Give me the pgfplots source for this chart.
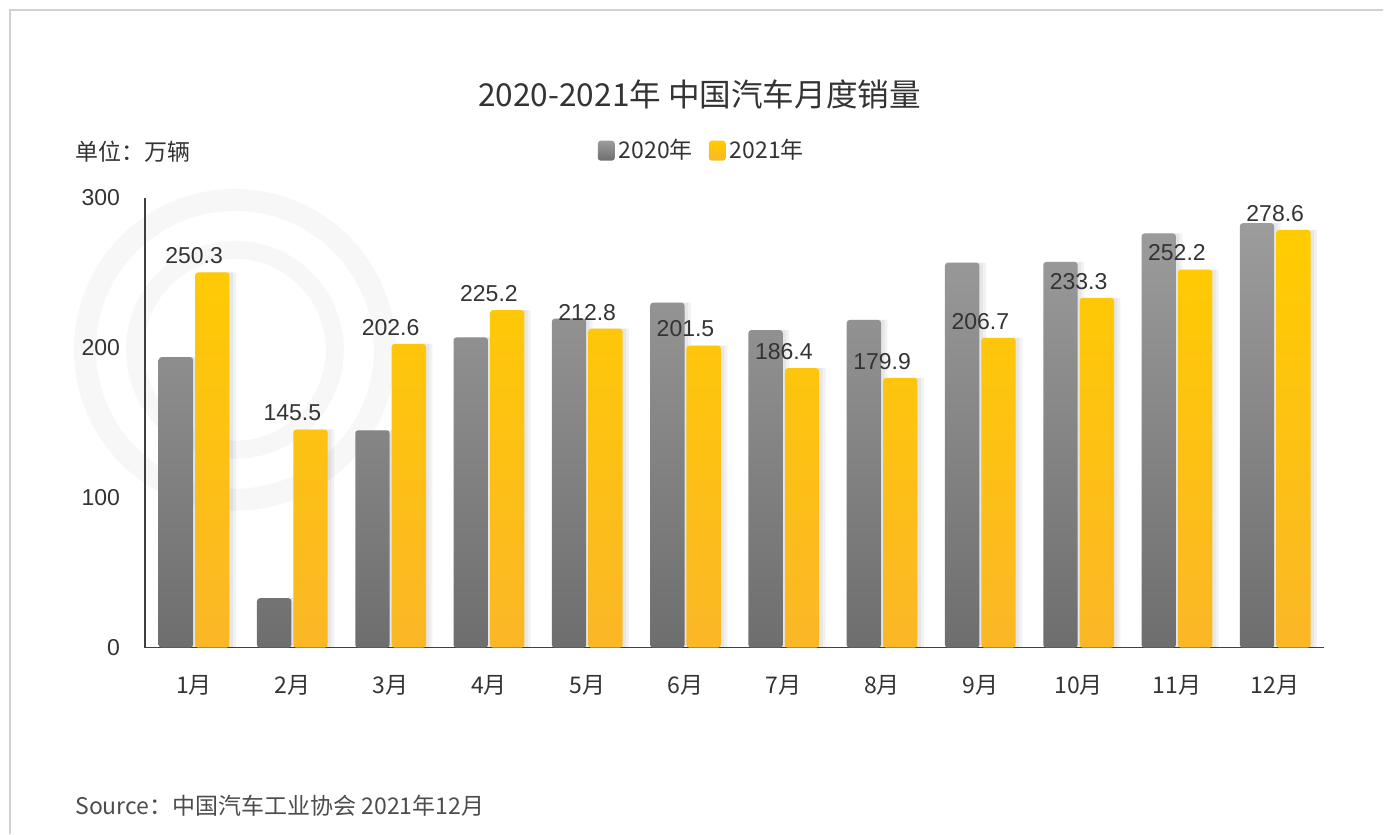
\documentclass[border=0pt]{standalone}
\usepackage{fontspec}
\setmainfont{Liberation Sans}
\newfontfamily\cjk{Noto Sans CJK SC}
\usepackage{pgfplots}
\usepackage{pgfplotstable}
\pgfplotsset{compat=1.18}
\definecolor{gtop}{HTML}{9C9C9C}
\definecolor{gbot}{HTML}{6E6E6E}
\definecolor{ytop}{HTML}{FFCC00}
\definecolor{ybot}{HTML}{FBB726}
\definecolor{txt}{HTML}{333333}
\definecolor{axc}{HTML}{404040}
\newcommand\fs{\fontsize{11.5}{13.8}\selectfont}

\pgfplotstableread{
x y
0 193.8
1 33.0
2 145.0
3 207.0
4 219.4
5 230.1
6 211.8
7 218.6
8 256.8
9 257.3
10 276.3
11 283.1
}\dataA
\pgfplotstableread{
x y
0 250.3
1 145.5
2 202.6
3 225.2
4 212.8
5 201.5
6 186.4
7 179.9
8 206.7
9 233.3
10 252.2
11 278.6
}\dataB

\begin{document}
\begin{tikzpicture}[x=0.5pt,y=0.5pt]
\path (0,0) rectangle (1384,834);
\draw[black!18, line width=0.7pt] (10,0) -- (10,824) -- (1384,824);
% faint watermark rings
\draw[black!3, line width=11pt] (235,484) circle (150);
\draw[black!3, line width=9pt] (235,484) circle (100);
\node[txt, anchor=center, font=\cjk\fontsize{15.8}{19}\selectfont] at (700,739) {2020-2021年 中国汽车月度销量};
\node[txt, anchor=west, font=\cjk\fs, inner sep=0] at (75,682) {单位：万辆};
\node[black!70, anchor=west, font=\cjk\fs, inner sep=0] at (75,28) {Source：中国汽车工业协会 2021年12月};
\begin{axis}[
  at={(72.5pt,93pt)}, anchor=south west,
  scale only axis, width=590pt, height=225pt,
  xmin=-0.5, xmax=11.5, ymin=0, ymax=300,
  clip=false,
  axis x line*=bottom, axis y line*=left,
  axis line style={draw=axc, line width=0.6pt, -},
  major tick length=0pt,
  xtick={0,...,11},
  xticklabels={1月,2月,3月,4月,5月,6月,7月,8月,9月,10月,11月,12月},
  ytick={0,100,200,300},
  /pgf/number format/assume math mode=true,
  xticklabel style={font=\cjk\fs, text=txt, yshift=-10.5pt},
  yticklabel style={font=\fs, text=txt, xshift=-9pt},
  legend style={at={(0.473,1.105)}, anchor=center, legend columns=2, draw=none, fill=none,
    font=\cjk\fs, text=txt, inner sep=0pt,
    /tikz/every even column/.append style={column sep=6pt}},
]
% shadows
\addplot[ybar, bar width=0.35, bar shift=-0.15, fill=black, opacity=0.05, draw=none, forget plot] table[x=x,y=y]{\dataA};
\addplot[ybar, bar width=0.35, bar shift=-0.12, fill=black, opacity=0.05, draw=none, forget plot] table[x=x,y=y]{\dataA};
\addplot[ybar, bar width=0.35, bar shift=0.22, fill=black, opacity=0.05, draw=none, forget plot] table[x=x,y=y]{\dataB};
\addplot[ybar, bar width=0.35, bar shift=0.25, fill=black, opacity=0.05, draw=none, forget plot] table[x=x,y=y]{\dataB};
% bars
\addplot[ybar, bar width=0.35, bar shift=-0.185, draw=none, rounded corners=1.5pt,
  top color=gtop, bottom color=gbot,
  legend image code/.code={\shade[top color=gtop, bottom color=gbot, rounded corners=1.5pt] (0pt,-5pt) rectangle (8.5pt,5pt);}]
  table[x=x,y=y]{\dataA};
\addlegendentry{2020年}
\addplot[ybar, bar width=0.35, bar shift=0.185, draw=none, rounded corners=1.5pt,
  top color=ytop, bottom color=ybot,
  nodes near coords,
  every node near coord/.append style={font=\fs, text=txt, inner sep=4pt},
  legend image code/.code={\shade[top color=ytop, bottom color=ybot, rounded corners=1.5pt] (0pt,-5pt) rectangle (8.5pt,5pt);}]
  table[x=x,y=y]{\dataB};
\addlegendentry{2021年}
\end{axis}
\end{tikzpicture}
\end{document}
